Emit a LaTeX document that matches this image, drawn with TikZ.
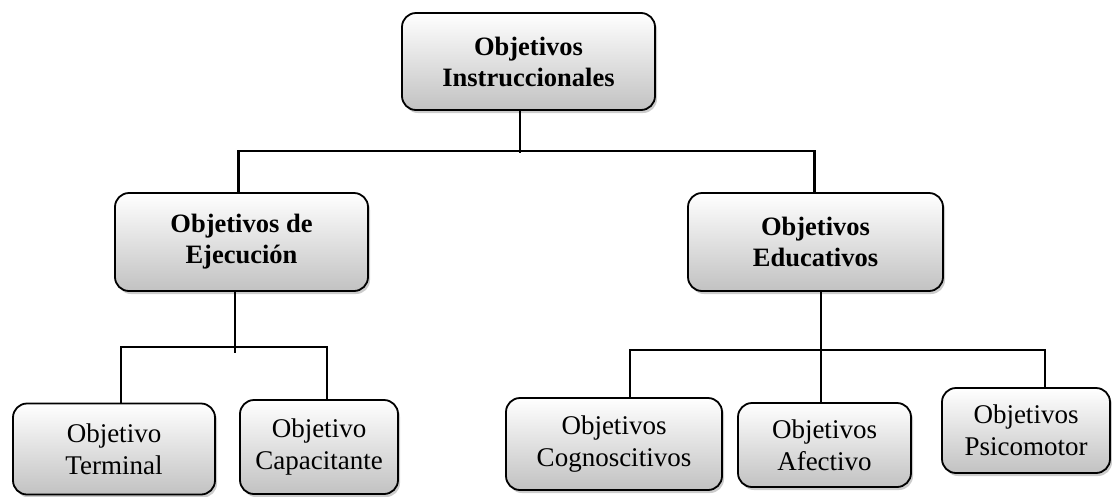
\documentclass[tikz,border=0pt]{standalone}
\usepackage{fontspec}
\setmainfont{Liberation Serif}
\usetikzlibrary{shadows,calc,positioning}

\begin{document}
\begin{tikzpicture}[x=1pt,y=-1pt]
	\tikzstyle{caja}=[draw, line width=1.8pt, rounded corners=14pt, top color=white, bottom color=black!24, drop shadow={shadow xshift=2pt, shadow yshift=-3pt, opacity=0.4}, align=center, inner sep=0pt, font=\fontsize{27}{32}\selectfont]
	\tikzstyle{negrita}=[caja, font=\fontsize{26.5}{31}\selectfont\bfseries]
	\tikzstyle{linea}=[line width=2.4pt]
	\tikzstyle{lineafina}=[line width=1.6pt]
	\useasboundingbox (0,0) rectangle (1112,496);
	\node [negrita, minimum width=253pt, minimum height=97pt] (instr) at (528.5,61.5) {Objetivos\\Instruccionales};
	\node [negrita, minimum width=253pt, minimum height=98pt] (ejec) at (241.5,242) {Objetivos de\\Ejecución};
	\node [negrita, minimum width=255pt, minimum height=98pt] (educ) at (815.5,242) {Objetivos\\Educativos};
	\node [caja, minimum width=202pt, minimum height=91pt] (term) at (114,449) {Objetivo\\Terminal};
	\node [caja, minimum width=158pt, minimum height=94pt] (capa) at (319,447) {Objetivo\\Capacitante};
	\node [caja, minimum width=216pt, minimum height=92pt] (cogn) at (614,444) {Objetivos\\Cognoscitivos};
	\node [caja, minimum width=173pt, minimum height=84pt] (afec) at (824.5,445) {Objetivos\\Afectivo};
	\node [caja, minimum width=168pt, minimum height=85pt] (psic) at (1026,430.5) {Objetivos\\Psicomotor};
	\coordinate (b1) at (520,151);
	\coordinate (b2) at (235,347);
	\coordinate (b3) at (821,350);
	\draw [linea] (instr.south -| b1) -- ([yshift=-2pt]b1);
	\draw [linea] ([xshift=-3pt]ejec.north) |- (b1) -| ([xshift=-1pt]educ.north);
	\draw [lineafina] (ejec.south -| b2) -- ([yshift=-6pt]b2);
	\draw [lineafina] ([xshift=7pt]term.north) |- (b2) -| ([xshift=8pt]capa.north);
	\draw [lineafina] (educ.south -| b3) -- (afec.north -| b3);
	\draw [lineafina] ([xshift=16pt]cogn.north) |- (b3) -| ([xshift=19pt]psic.north);
\end{tikzpicture}
\end{document}
